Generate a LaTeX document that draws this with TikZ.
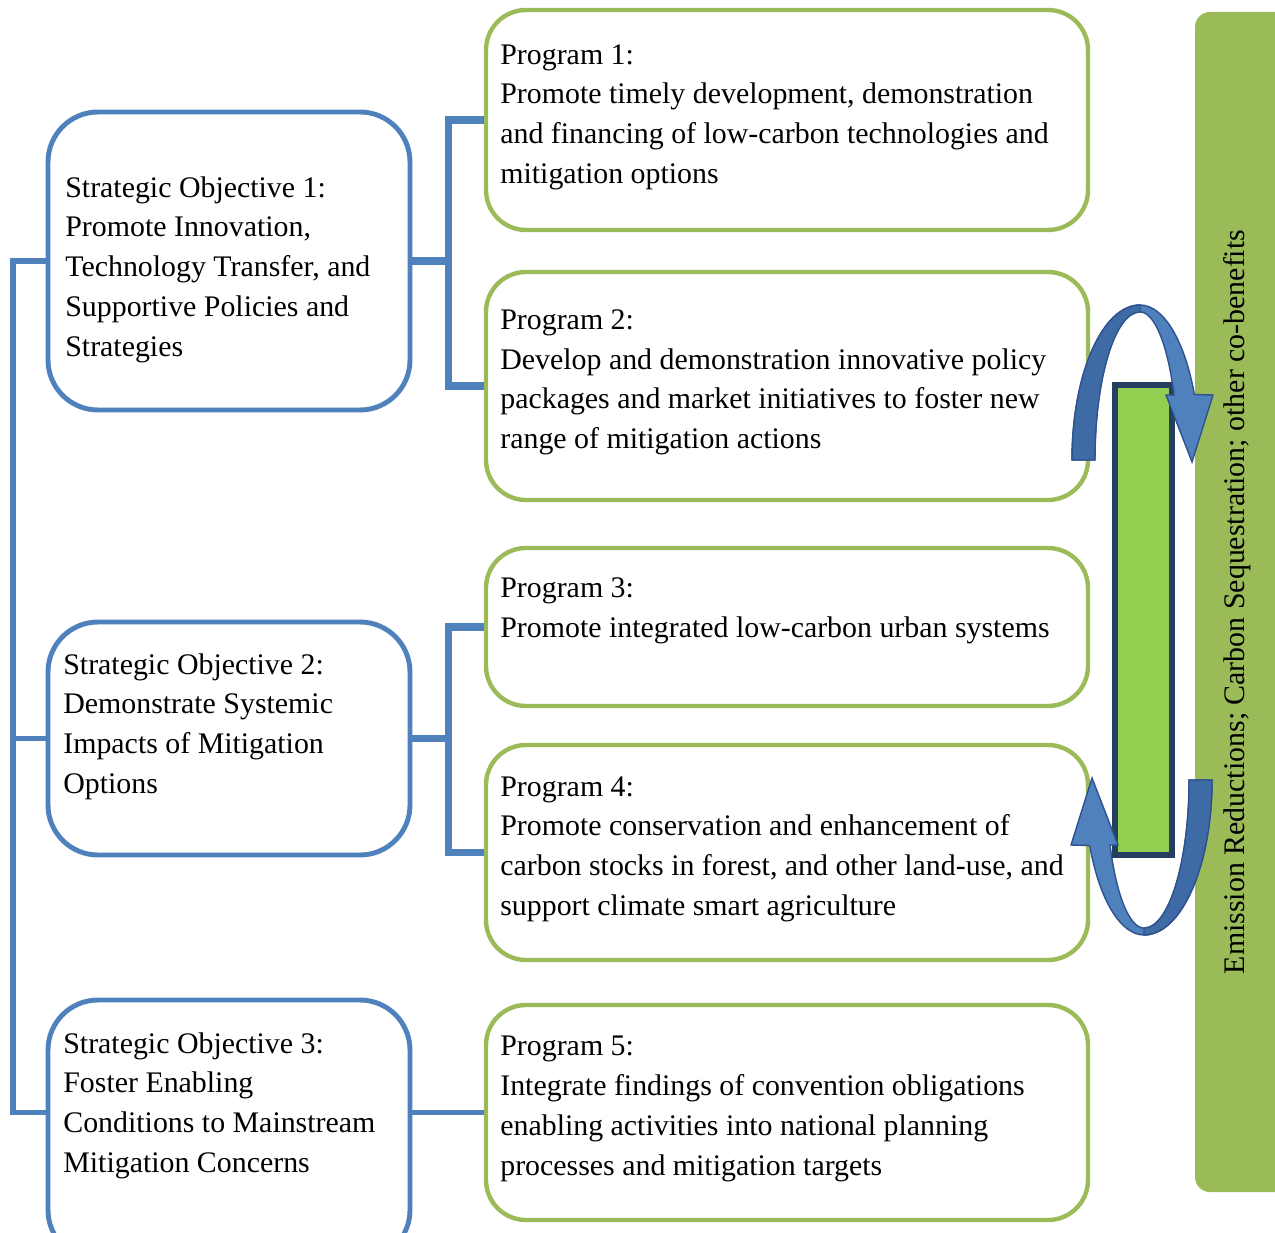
\documentclass[tikz,border=0pt]{standalone}
\usepackage{fontspec}
\setmainfont{Liberation Serif}
\usepackage{tikz}
\usetikzlibrary{positioning}
\usetikzlibrary{fit}
\usepackage{xcolor}

\definecolor{objblue}{HTML}{4F81BD}
\definecolor{progreen}{HTML}{9BBB59}
\definecolor{barfill}{HTML}{92D050}
\definecolor{barline}{HTML}{243F60}
\definecolor{loopline}{HTML}{2F528F}
\definecolor{loopdark}{HTML}{3E6BA6}

\begin{document}
\begin{tikzpicture}[x=0.2mm, y=0.2mm,
    objbox/.style={draw=objblue, line width=2.8pt, rounded corners=10mm, fill=white, inner sep=0pt},
    progbox/.style={draw=progreen, line width=2.5pt, rounded corners=8mm, fill=white, inner sep=0pt},
    txt/.style={anchor=north west, align=left, inner sep=0pt, font=\fontsize{17}{22.7}\selectfont},
    trunk/.style={objblue, line width=4.2pt},
    spine/.style={objblue, line width=3.4pt},
    looparrow/.style={fill=objblue, draw=loopline, line width=0.8pt}]
    \useasboundingbox (0,0) rectangle (1275,1232);
    \clip (0,0) rectangle (1275,1232);

    % strategic objectives
    \node[objbox, fit={(48,1120)(410,822)}] (so1) {};
    \node[objbox, fit={(48,610)(410,377)}] (so2) {};
    \node[objbox, fit={(48,232)(410,-28)}] (so3) {};

    % programs
    \node[progbox, fit={(486,1222)(1088,1002)}] (p1) {};
    \node[progbox, fit={(486,960)(1088,732)}] (p2) {};
    \node[progbox, fit={(486,684)(1088,526)}] (p3) {};
    \node[progbox, fit={(486,487)(1088,272)}] (p4) {};
    \node[progbox, fit={(486,227)(1088,12)}] (p5) {};

    % connectors
    \draw[spine] (so1.west) -- ++(-33,0) coordinate (spine) |- (so3.west |- p5.west);
    \draw[spine] (spine |- so2.west) -- (so2.west);
    \draw[trunk] (so1.east) -- ++(36,0) coordinate (j1) |- (p1.west);
    \draw[trunk] (j1) |- (p2.west);
    \draw[trunk] (so2.east) -- ++(36,0) coordinate (j2) |- (p3.west);
    \draw[trunk] (j2) |- (p4.west);
    \draw[objblue, line width=2.3pt] (so3.east |- p5.west) -- (p5.west);

    % texts
    \node[txt] (so1t) at (65,1056) {Strategic Objective 1:\\Promote Innovation,\\Technology Transfer, and\\Supportive Policies and\\Strategies};
    \node[txt] (so2t) at (63,579) {Strategic Objective 2:\\Demonstrate Systemic\\Impacts of Mitigation\\Options};
    \node[txt] (so3t) at (63,200) {Strategic Objective 3:\\Foster Enabling\\Conditions to Mainstream\\Mitigation Concerns};
    \node[txt] (p1t) at (500,1188) {Program 1:\\Promote timely development, demonstration\\and financing of low-carbon technologies and\\mitigation options};
    \node[txt] (p2t) at (500,923) {Program 2:\\Develop and demonstration innovative policy\\packages and market initiatives to foster new\\range of mitigation actions};
    \node[txt] (p3t) at (500,655) {Program 3:\\Promote integrated low-carbon urban systems};
    \node[txt] (p4t) at (500,456) {Program 4:\\Promote conservation and enhancement of\\carbon stocks in forest, and other land-use, and\\support climate smart agriculture};
    \node[txt] (p5t) at (500,196) {Program 5:\\Integrate findings of convention obligations\\enabling activities into national planning\\processes and mitigation targets};

    % outcome panel
    \node[fill=progreen, rounded corners=3mm, inner sep=0pt, fit={(1195,1220)(1300,40)}] (panel) {};
    \node[rotate=90, inner sep=0pt, font=\fontsize{17}{22.7}\selectfont] (panelt) at (1237,630)
        {Emission Reductions; Carbon Sequestration; other co-benefits};

    % bar and loop arrows
    \node[draw=barline, fill=barfill, line width=3.4pt, inner sep=0pt, fit={(1115,847)(1172,377)}] (bar) {};
    \foreach \r in {0,180}{
        \begin{scope}[rotate around={\r:(1142,612)}]
            \filldraw[looparrow] (1072,772) arc[start angle=180, end angle=90, x radius=68, y radius=155]
                arc[start angle=90, end angle=25, x radius=60, y radius=155]
                -- (1213,837) -- (1192,770) -- (1166,837) -- (1174,837)
                arc[start angle=26, end angle=90, x radius=38, y radius=148]
                arc[start angle=90, end angle=180, x radius=45, y radius=148] -- cycle;
            \filldraw[looparrow, fill=loopdark] (1072,772) arc[start angle=180, end angle=90, x radius=68, y radius=155]
                -- (1140,920) arc[start angle=90, end angle=180, x radius=45, y radius=148] -- cycle;
        \end{scope}
    }
\end{tikzpicture}
\end{document}
